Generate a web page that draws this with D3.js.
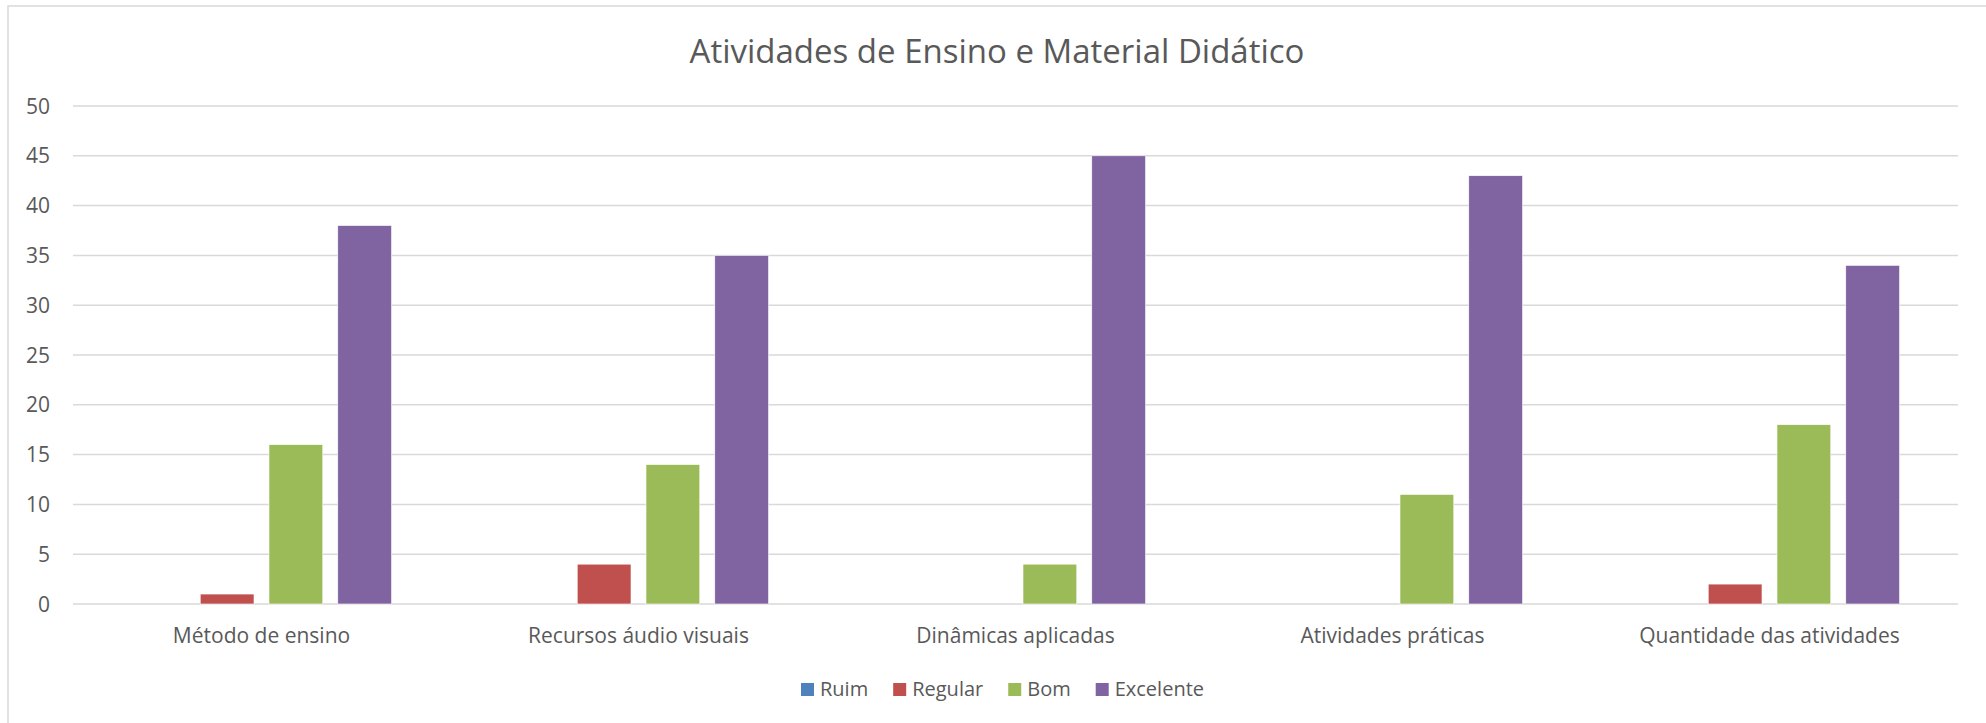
<!DOCTYPE html>
<html>
<head>
<meta charset="utf-8">
<script src="https://cdn.jsdelivr.net/npm/d3@7"></script>
<style>
  body { margin: 0; background: #fff; }
  text { font-family: "Open Sans", sans-serif; fill: #595959; }
</style>
</head>
<body>
<svg id="chart"></svg>
<script>
var width = 1986;
var height = 723;

// data
var categories = ['Método de ensino', 'Recursos áudio visuais', 'Dinâmicas aplicadas', 'Atividades práticas', 'Quantidade das atividades'];
var seriesNames = ['Ruim', 'Regular', 'Bom', 'Excelente'];
var ruim = [0, 0, 0, 0, 0];
var regular = [1, 4, 0, 0, 2];
var bom = [16, 14, 4, 11, 18];
var excelente = [38, 35, 45, 43, 34];
var yTicks = [0, 5, 10, 15, 20, 25, 30, 35, 40, 45, 50];
var colors = ['#4f81bd', '#c0504d', '#9bbb59', '#8064a2'];

var values = [ruim, regular, bom, excelente];
var data = categories.map(function (c, i) {
  var row = { category: c };
  seriesNames.forEach(function (s, j) { row[s] = values[j][i]; });
  return row;
});

var svg = d3.select('#chart').attr('width', width).attr('height', height);

// chart frame (runs off the right and bottom of the picture)
svg.append('rect')
  .attr('x', 8).attr('y', 6)
  .attr('width', 2100).attr('height', 900)
  .attr('fill', '#fff')
  .attr('stroke', '#d9d9d9')
  .attr('stroke-width', 1.5);

var plotLeft = 73, plotRight = 1958, plotTop = 106, plotBottom = 604;

var x0 = d3.scaleBand()
  .domain(categories)
  .range([plotLeft, plotRight])
  .paddingInner(0.31)
  .paddingOuter(0.155);

var x1 = d3.scaleBand()
  .domain(seriesNames)
  .range([0, x0.bandwidth()])
  .paddingInner(0.218);

var y = d3.scaleLinear().domain([0, 50]).range([plotBottom, plotTop]);

var color = d3.scaleOrdinal().domain(seriesNames).range(colors);

// gridlines
svg.append('g')
  .selectAll('line')
  .data(yTicks)
  .enter().append('line')
  .attr('x1', plotLeft).attr('x2', plotRight)
  .attr('y1', function (d) { return y(d); })
  .attr('y2', function (d) { return y(d); })
  .attr('stroke', '#d9d9d9')
  .attr('stroke-width', 1.5);

// y labels
svg.append('g')
  .selectAll('text')
  .data(yTicks)
  .enter().append('text')
  .attr('x', 50)
  .attr('y', function (d) { return y(d) + 7.5; })
  .attr('text-anchor', 'end')
  .style('font-size', '21px')
  .text(function (d) { return d; });

// bars
var groups = svg.append('g')
  .selectAll('g')
  .data(data)
  .enter().append('g')
  .attr('transform', function (d) { return 'translate(' + x0(d.category) + ',0)'; });

groups.selectAll('rect')
  .data(function (d) {
    return seriesNames.map(function (s) { return { key: s, value: d[s] }; });
  })
  .enter().append('rect')
  .attr('x', function (d) { return x1(d.key); })
  .attr('y', function (d) { return y(d.value); })
  .attr('width', x1.bandwidth())
  .attr('height', function (d) { return plotBottom - y(d.value); })
  .attr('fill', function (d) { return color(d.key); })
  .attr('stroke', function (d) { return d.value > 0 ? '#fff' : 'none'; })
  .attr('stroke-width', 0.6);

// category labels
svg.append('g')
  .selectAll('text')
  .data(categories)
  .enter().append('text')
  .attr('x', function (d) { return x0(d) + x0.bandwidth() / 2; })
  .attr('y', 643)
  .attr('text-anchor', 'middle')
  .style('font-size', '21px')
  .text(function (d) { return d; });

// title
svg.append('text')
  .attr('x', 997)
  .attr('y', 63)
  .attr('text-anchor', 'middle')
  .style('font-size', '33px')
  .text('Atividades de Ensino e Material Didático');

// legend, laid out from measured text widths and centred
var legend = svg.append('g');
var items = legend.selectAll('g')
  .data(seriesNames)
  .enter().append('g');
items.append('rect')
  .attr('width', 13).attr('height', 13)
  .attr('y', 683)
  .attr('fill', function (d) { return color(d); });
items.append('text')
  .attr('x', 19)
  .attr('y', 696)
  .style('font-size', '20px')
  .text(function (d) { return d; });

var pos = 0;
items.each(function () {
  var g = d3.select(this);
  var w = 19 + g.select('text').node().getComputedTextLength();
  g.attr('transform', 'translate(' + pos + ',0)');
  pos += w + 25;
});
var total = pos - 25;
legend.attr('transform', 'translate(' + (1002.5 - total / 2) + ',0)');
</script>
</body>
</html>
